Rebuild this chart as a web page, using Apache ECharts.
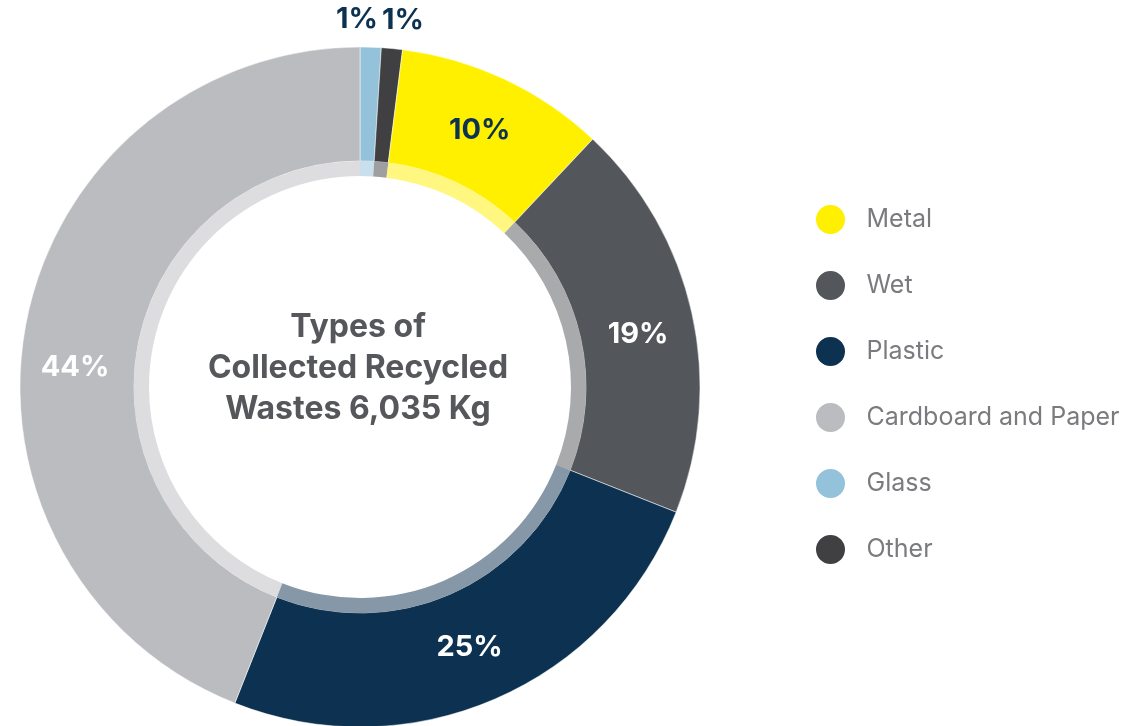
<!DOCTYPE html>
<html>
<head>
<meta charset="utf-8">
<script src="https://cdn.jsdelivr.net/npm/echarts@6/dist/echarts.min.js"></script>
<style>
  html, body { margin: 0; padding: 0; background: #fff; }
  #chart { width: 1129px; height: 726px; }
</style>
</head>
<body>
<div id="chart"></div>
<script>
// waste types, clockwise from 12 o'clock
var categories = ['Glass', 'Other', 'Metal', 'Wet', 'Plastic', 'Cardboard and Paper'];
var percents = [1, 1, 10, 19, 25, 44];
var colors = ['#93c2da', '#404043', '#fff000', '#53565a', '#0d3251', '#bbbcbf'];
var labelColors = ['#0d3251', '#0d3251', '#0d3251', '#ffffff', '#ffffff', '#ffffff'];
var legendOrder = ['Metal', 'Wet', 'Plastic', 'Cardboard and Paper', 'Glass', 'Other'];
var centerText = 'Types of\nCollected Recycled\nWastes 6,035 Kg';

var chartDom = document.getElementById('chart');
var myChart = echarts.init(chartDom);
var option;

// nudge labels to where the original puts them (tiny slices go above the ring)
var labelOffsets = {
  'Glass': [-12, -82],
  'Other': [16, -82],
  'Metal': [-2, 2],
  'Wet': [-1, 10],
  'Plastic': [-4, -2],
  'Cardboard and Paper': [-4, 34]
};

var mainData = categories.map(function (name, i) {
  return {
    name: name,
    value: percents[i],
    itemStyle: { color: colors[i] },
    label: {
      color: labelColors[i],
      offset: labelOffsets[name] || [0, 0]
    }
  };
});

var bandData = categories.map(function (name, i) {
  return {
    name: name,
    value: percents[i],
    itemStyle: { color: colors[i], opacity: 0.5 }
  };
});

option = {
  color: colors,
  title: {
    text: centerText,
    left: 353,
    top: 302,
    textAlign: 'center',
    textStyle: {
      fontFamily: 'Inter',
      fontSize: 32,
      fontWeight: 'bold',
      lineHeight: 41,
      color: '#55575b'
    }
  },
  legend: {
    data: legendOrder,
    orient: 'vertical',
    left: 809,
    top: 198,
    icon: 'circle',
    itemWidth: 62,
    itemHeight: 31,
    itemGap: 33,
    textStyle: {
      fontFamily: 'Inter',
      fontSize: 25,
      color: '#7a7b7e'
    }
  },
  series: [
    {
      type: 'pie',
      center: [360, 387],
      radius: [226, 340],
      startAngle: 90,
      clockwise: true,
      avoidLabelOverlap: false,
      data: mainData,
      itemStyle: { borderColor: '#ffffff', borderWidth: 0.5 },
      label: {
        show: true,
        position: 'inside',
        formatter: '{c}%',
        fontFamily: 'Inter',
        fontSize: 29,
        fontWeight: 'bold'
      },
      labelLine: { show: false },
      emphasis: { disabled: true }
    },
    {
      type: 'pie',
      center: [360, 387],
      radius: [211, 226],
      startAngle: 90,
      clockwise: true,
      silent: true,
      data: bandData,
      label: { show: false },
      labelLine: { show: false },
      emphasis: { disabled: true }
    }
  ]
};

option && myChart.setOption(option);
</script>
</body>
</html>
